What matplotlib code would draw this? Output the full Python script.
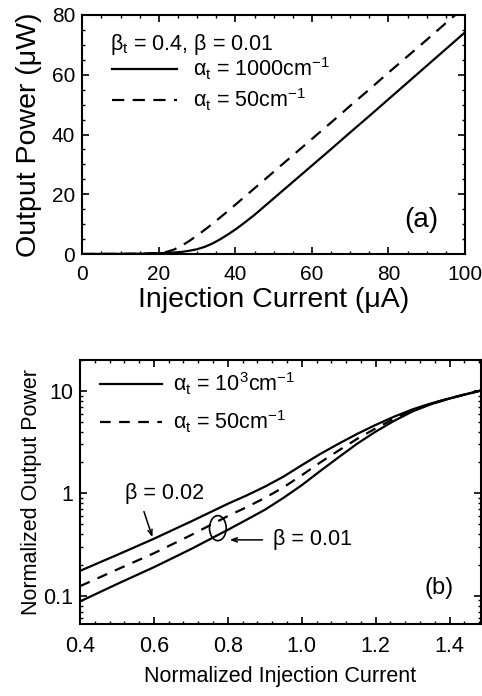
import numpy as np
import matplotlib
matplotlib.use('Agg')
import matplotlib.pyplot as plt
from matplotlib.patches import Ellipse
from matplotlib.transforms import ScaledTranslation
from matplotlib.ticker import (MultipleLocator, LogLocator, FixedLocator, FixedFormatter,
                               NullFormatter, FormatStrFormatter)

plt.rcParams['font.family'] = ['Liberation Sans', 'DejaVu Sans']
plt.rcParams['mathtext.fontset'] = 'custom'
plt.rcParams['mathtext.rm'] = 'Liberation Sans'
plt.rcParams['mathtext.it'] = 'Liberation Sans:italic'
plt.rcParams['mathtext.bf'] = 'Liberation Sans:bold'

# ---------------------------------------------------------------------------
# (a) output power vs injection current
# ---------------------------------------------------------------------------
current_ua = [0, 10, 15, 20, 22, 24, 26, 28, 30, 32, 34, 36, 38, 40, 42,
              45, 50, 55, 60, 65, 70, 75, 80, 85, 90, 95, 100]
power_alpha1000 = [0, 0.05, 0.1, 0.25, 0.35, 0.5, 0.7, 1.1, 1.6, 2.4, 3.5, 4.9, 6.5, 8.2, 10.1,
                   13.1, 18.6, 24.1, 29.6, 35.1, 40.7, 46.2, 51.8, 57.4, 63.0, 68.6, 74.2]
power_alpha50 = [0, 0.05, 0.1, 0.3, 0.7, 1.5, 2.8, 4.4, 6.2, 8.1, 10.1, 12.2, 14.3, 16.5, 18.7,
                 22.0, 27.5, 33.0, 38.5, 44.0, 49.6, 55.1, 60.7, 66.2, 71.7, 77.3, 82.8]

# ---------------------------------------------------------------------------
# (b) normalized output power vs normalized current
# ---------------------------------------------------------------------------
norm_current = [0.4, 0.5, 0.6, 0.7, 0.8, 0.85, 0.9, 0.95, 1.0, 1.05, 1.1,
                1.15, 1.2, 1.25, 1.3, 1.35, 1.4, 1.45, 1.485]
norm_beta002 = [0.175, 0.25, 0.36, 0.53, 0.79, 0.95, 1.16, 1.45, 1.88, 2.42, 3.05,
                3.8, 4.65, 5.6, 6.6, 7.55, 8.45, 9.4, 10.1]
norm_beta001 = [0.088, 0.13, 0.19, 0.285, 0.44, 0.55, 0.69, 0.9, 1.2, 1.65, 2.25,
                3.05, 4.0, 5.1, 6.3, 7.4, 8.4, 9.35, 10.05]
norm_beta001_a50 = [0.124, 0.18, 0.26, 0.39, 0.6, 0.73, 0.9, 1.14, 1.5, 2.0, 2.62,
                    3.4, 4.3, 5.35, 6.45, 7.5, 8.45, 9.4, 10.08]

W, H = 482, 696
fig = plt.figure(figsize=(W / 100, H / 100), dpi=100)


def px_axes(left, top, right, bottom):
    return fig.add_axes([left / W, 1 - bottom / H, (right - left) / W, (bottom - top) / H])


def style_axes(ax, size, xpad, ypad):
    for s in ax.spines.values():
        s.set_linewidth(1.5)
    ax.tick_params(which='both', direction='in', top=True, right=True, labelsize=size)
    ax.tick_params(axis='x', pad=xpad)
    ax.tick_params(axis='y', pad=ypad)
    ax.tick_params(which='major', length=5, width=1.2)
    ax.tick_params(which='minor', length=2.5, width=1.0)


# ---- panel (a) ----
ax1 = px_axes(82.3, 15, 465, 254)
ax1.plot(current_ua, power_alpha1000, color='black', lw=1.6, label=r'α$_\mathrm{t}$ = 1000cm$^{-1}$')
ax1.plot(current_ua, power_alpha50, color='black', lw=1.6, dashes=(5.5, 3.8),
         label=r'α$_\mathrm{t}$ = 50cm$^{-1}$')
ax1.set_xlim(0, 100)
ax1.set_ylim(0, 80)
ax1.xaxis.set_major_locator(MultipleLocator(20))
ax1.xaxis.set_minor_locator(MultipleLocator(5))
ax1.yaxis.set_major_locator(MultipleLocator(20))
ax1.yaxis.set_minor_locator(MultipleLocator(5))
style_axes(ax1, 15, 8, 5)
ax1.set_xlabel('Injection Current (μA)', fontsize=20.5, labelpad=2)
ax1.set_ylabel('Output Power (μW)', fontsize=20.5, labelpad=7)
ax1.text(0.072, 0.854, r'β$_\mathrm{t}$ = 0.4, β = 0.01', transform=ax1.transAxes,
         fontsize=15.5, ha='left', va='baseline')
ax1.legend(loc='upper left', bbox_to_anchor=(0.078, 0.83), frameon=False, fontsize=15.5,
           handlelength=3.0, handletextpad=0.75, labelspacing=0.22,
           borderpad=0, borderaxespad=0)
ax1.text(88.5, 11.4, '(a)', fontsize=20, ha='center', va='center')

# ---- panel (b) ----
ax2 = px_axes(80, 360, 481, 624)
ax2.plot(norm_current, norm_beta002, color='black', lw=1.6, label=r'α$_\mathrm{t}$ = 10$^3$cm$^{-1}$')
ax2.plot(norm_current, norm_beta001_a50, color='black', lw=1.6, dashes=(4.8, 3.8),
         label=r'α$_\mathrm{t}$ = 50cm$^{-1}$')
ax2.plot(norm_current, norm_beta001, color='black', lw=1.6)
ax2.set_yscale('log')
ax2.set_xlim(0.4, 1.485)
ax2.set_ylim(0.053, 20)
ax2.xaxis.set_major_locator(MultipleLocator(0.2))
ax2.xaxis.set_minor_locator(MultipleLocator(0.04))
ax2.xaxis.set_major_formatter(FormatStrFormatter('%.1f'))
ax2.yaxis.set_major_locator(FixedLocator([0.1, 1, 10]))
ax2.yaxis.set_major_formatter(FixedFormatter(['0.1', '1', '10']))
ax2.yaxis.set_minor_locator(LogLocator(base=10, subs=np.arange(2, 10)))
ax2.yaxis.set_minor_formatter(NullFormatter())
style_axes(ax2, 15.5, 9, 5)
ax2.set_xlabel('Normalized Injection Current', fontsize=15.5, labelpad=6)
ax2.set_ylabel('Normalized Output Power', fontsize=15.5, labelpad=1)
ax2.legend(loc='upper left', bbox_to_anchor=(0.05, 0.96), frameon=False, fontsize=15.5,
           handlelength=2.9, handletextpad=0.5, labelspacing=0.55,
           borderpad=0, borderaxespad=0)

ax2.text(0.521, 1.0, 'β = 0.02', fontsize=15.5, ha='left', va='center')
ax2.annotate('', xy=(0.596, 0.373), xytext=(0.573, 0.664),
             arrowprops=dict(arrowstyle='->,head_length=0.4,head_width=0.15', lw=1.1, color='black',
                             shrinkA=0, shrinkB=0))
ax2.text(0.921, 0.351, 'β = 0.01', fontsize=15.5, ha='left', va='center')
ax2.annotate('', xy=(0.805, 0.351), xytext=(0.894, 0.351),
             arrowprops=dict(arrowstyle='->,head_length=0.4,head_width=0.15', lw=1.1, color='black',
                             shrinkA=0, shrinkB=0))
ell = Ellipse((0, 0), width=0.167, height=0.25, fill=False, lw=1.2, color='black',
              transform=fig.dpi_scale_trans + ScaledTranslation(0.773, 0.457, ax2.transData))
ax2.add_patch(ell)
ax2.text(1.371, 0.12, '(b)', fontsize=17, ha='center', va='center')

fig.savefig('out.png', dpi=100)
